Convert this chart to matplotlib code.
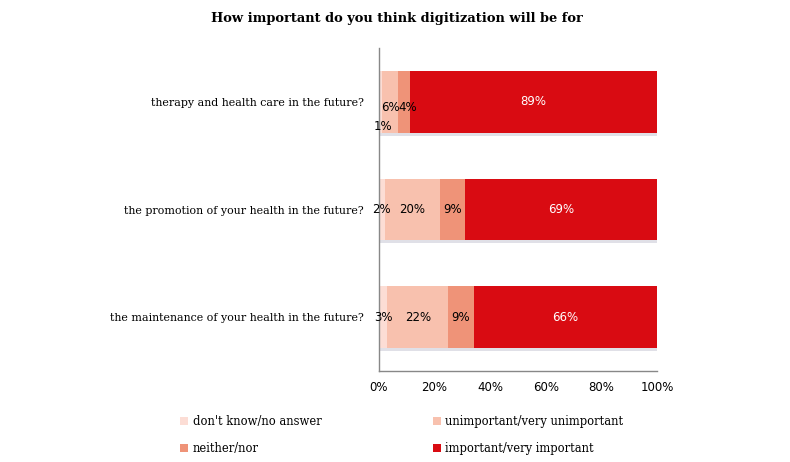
import matplotlib
matplotlib.use('Agg')
import matplotlib.pyplot as plt
from matplotlib.patches import Patch
import matplotlib.patheffects as pe

# data (bottom row first)
questions = [
    "the maintenance of your health in the future?",
    "the promotion of your health in the future?",
    "therapy and health care in the future?",
]
series_names = [
    "don't know/no answer",
    "unimportant/very unimportant",
    "neither/nor",
    "important/very important",
]
dont_know = [3, 2, 1]
unimportant = [22, 20, 6]
neither = [9, 9, 4]
important = [66, 69, 89]

colors = ["#FCDDD5", "#F8C1AE", "#EF9378", "#D90B12"]
text_colors = ["black", "black", "black", "white"]
serif = "DejaVu Serif"

fig = plt.figure(figsize=(7.9, 4.62), dpi=100)
ax = fig.add_axes([0.4797, 0.197, 0.352, 0.699])

values = [dont_know, unimportant, neither, important]
left = [0] * len(questions)
# faint drop shadow under the bars
shadow = [pe.SimplePatchShadow(offset=(1, -2), shadow_rgbFace="#A8A8BC", alpha=0.35), pe.Normal()]
for s, (vals, col, tc) in enumerate(zip(values, colors, text_colors)):
    bars = ax.barh(range(len(questions)), vals, left=left, height=0.574,
                   color=col, edgecolor="none", label=series_names[s])
    for b in bars:
        b.set_path_effects(shadow)
    for i, v in enumerate(vals):
        x = left[i] + v / 2
        y = i
        # top bar labels overlap, shift them like the original
        if i == 2 and s == 0:
            y = i - 0.23
            x = left[i] + 1.5
        elif i == 2 and s in (1, 2):
            y = i - 0.05
            x = left[i] + v / 2 + (1.5 if s == 2 else 0)
        ax.text(x, y, f"{v}%", ha="center", va="center", color=tc, fontsize=8.5)
    left = [a + b for a, b in zip(left, vals)]

ax.set_xlim(0, 100)
ax.set_ylim(-0.5, 2.5)
ax.set_yticks(range(len(questions)))
ax.set_yticklabels(questions, fontsize=7.95, family=serif)
ax.set_xticks(range(0, 101, 20))
ax.set_xticklabels([f"{t}%" for t in range(0, 101, 20)], fontsize=8.5)
ax.tick_params(axis="both", length=0, pad=7)
ax.tick_params(axis="y", pad=11)
for side in ["top", "right"]:
    ax.spines[side].set_visible(False)
for side in ["left", "bottom"]:
    ax.spines[side].set_color("#888888")
    ax.spines[side].set_linewidth(1)

fig.text(0.502, 0.96, "How important do you think digitization will be for",
         ha="center", va="center", fontsize=9.35, fontweight="bold", family=serif)

handles = [Patch(facecolor=c, edgecolor="none") for c in colors]
order = [0, 2, 1, 3]
fig.legend([handles[k] for k in order], [series_names[k] for k in order],
           ncol=2, loc="center left", bbox_to_anchor=(0.2145, 0.058),
           frameon=False, handlelength=0.7, handleheight=0.7, handletextpad=0.4,
           columnspacing=9.65, labelspacing=1.25, prop={"family": serif, "size": 8.3})

fig.savefig("out.png", dpi=100)
